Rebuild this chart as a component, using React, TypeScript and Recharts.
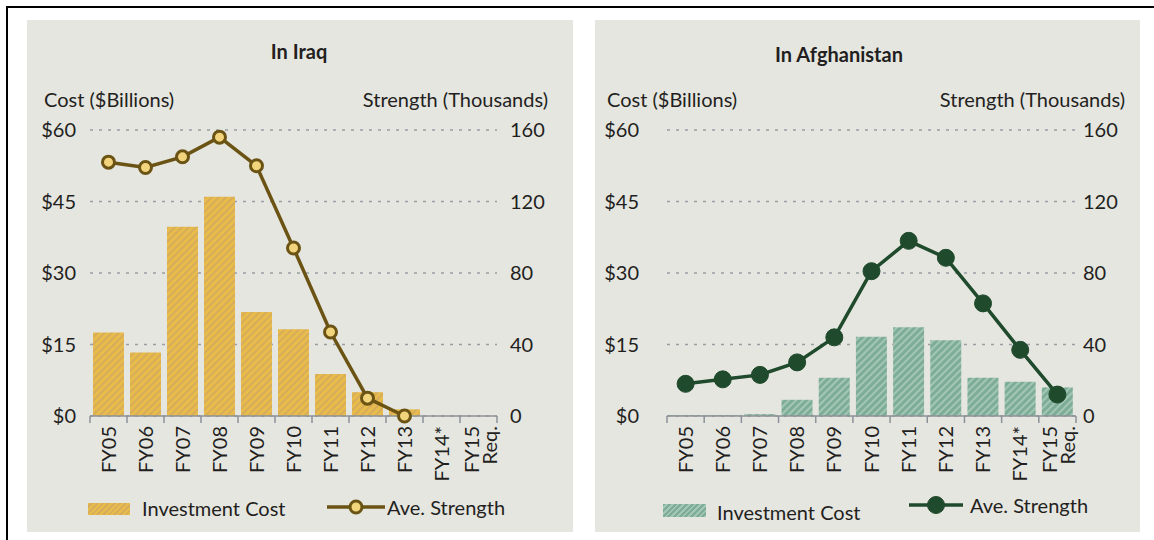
import { Bar, CartesianGrid, ComposedChart, Line, XAxis, YAxis } from 'recharts'

const categories = ['FY05', 'FY06', 'FY07', 'FY08', 'FY09', 'FY10', 'FY11', 'FY12', 'FY13', 'FY14*', 'FY15 Req.']

const iraqCost = [17.5, 13.3, 39.7, 46.0, 21.8, 18.2, 8.8, 5.0, 1.4, 0, 0]
const iraqStrength = [142, 139, 145, 156, 140, 94, 47, 10, 0, null, null]

const afghanCost = [0.2, 0.2, 0.4, 3.4, 8.0, 16.6, 18.6, 15.9, 8.0, 7.2, 6.0]
const afghanStrength = [18, 20.5, 23, 30, 44, 81, 98, 88.5, 63, 37, 12]

const costTicks = [0, 15, 30, 45, 60]
const strengthTicks = [0, 40, 80, 120, 160]

const FONT = 'Lato, "Open Sans", sans-serif'
const INK = '#231f20'
const AXIS = '#8c9298'
const PANEL_BG = '#e6e6e1'

function buildRows(cost: number[], strength: (number | null)[]) {
  return categories.map((name, i) => ({ name, cost: cost[i], strength: strength[i] }))
}

function FyTick(props: any) {
  const { x, y, payload, index, visibleTicksCount, half: fallbackHalf } = props
  const half = payload.offset || fallbackHalf
  const lines = String(payload.value).split(' ')
  return (
    <g>
      <line x1={x - half} x2={x - half} y1={y} y2={y + 7} stroke={AXIS} strokeWidth={1.5} />
      {index === visibleTicksCount - 1 && <line x1={x + half} x2={x + half} y1={y} y2={y + 7} stroke={AXIS} strokeWidth={1.5} />}
      <text transform={`translate(${x},${y + 10}) rotate(-90)`} textAnchor="end" fontSize={20} fill={INK} fontFamily={FONT}>
        {lines.length === 1 ? (
          <tspan x={0} y={7}>{lines[0]}</tspan>
        ) : (
          <>
            <tspan x={0} y={0}>{lines[0]}</tspan>
            <tspan x={0} y={18}>{lines[1]}</tspan>
          </>
        )}
      </text>
    </g>
  )
}

interface PanelProps {
  left: number
  width: number
  title: string
  titleX: number
  titleY: number
  costLabelX: number
  strengthLabelRight: number
  cost: number[]
  strength: (number | null)[]
  barColor: string
  stripeColor: string
  lineColor: string
  dotFill: string
  dotR: number
  dotStroke: number
  patternId: string
  leftAxisW: number
  rightAxisW: number
  leftTickGap: number
  rightTickGap: number
  legend: { swatchX: number; swatchY: number; swatchW: number; swatchH: number; textX: number; textY: number; lineX: number; lineW: number; lineY: number; text2X: number }
}

function Panel(p: PanelProps) {
  const data = buildRows(p.cost, p.strength)
  const plotW = p.width - p.leftAxisW - p.rightAxisW
  const label = { position: 'absolute' as const, fontFamily: FONT, fontSize: 20, color: INK, lineHeight: '20px', whiteSpace: 'nowrap' as const }
  return (
    <div style={{ position: 'absolute', left: p.left, top: 20, width: p.width, height: 512, background: PANEL_BG }}>
      <div style={{ ...label, left: p.titleX, top: p.titleY - 10, fontWeight: 700, transform: 'translateX(-50%)' }}>{p.title}</div>
      <div style={{ ...label, left: p.costLabelX, top: 69 }}>Cost ($Billions)</div>
      <div style={{ ...label, right: p.strengthLabelRight, top: 69 }}>Strength (Thousands)</div>
      <div style={{ position: 'absolute', left: 0, top: 0 }}>
        <ComposedChart width={p.width} height={512} data={data} margin={{ top: 110, right: 0, bottom: 0, left: 0 }} barCategoryGap={3}>
          <defs>
            <pattern id={p.patternId} patternUnits="userSpaceOnUse" width={5} height={5} patternTransform="rotate(45)">
              <rect width={5} height={5} fill={p.barColor} />
              <line x1={1} y1={0} x2={1} y2={5} stroke={p.stripeColor} strokeWidth={2} />
            </pattern>
          </defs>
          <CartesianGrid yAxisId="cost" vertical={false} stroke="#9a9ea2" strokeDasharray="3 6" strokeWidth={1.3} />
          <XAxis
            dataKey="name"
            interval={0}
            tickLine={false}
            tickSize={0}
            tickMargin={0}
            axisLine={{ stroke: AXIS, strokeWidth: 1.5 }}
            height={116}
            tick={<FyTick half={plotW / categories.length / 2} />}
          />
          <YAxis
            yAxisId="cost"
            width={p.leftAxisW}
            domain={[0, 60]}
            ticks={costTicks}
            tickFormatter={(v) => `$${v}`}
            axisLine={false}
            tickLine={false}
            tickSize={0}
            tickMargin={p.leftTickGap}
            tick={{ fill: INK, fontSize: 20, fontFamily: FONT }}
          />
          <YAxis
            yAxisId="strength"
            orientation="right"
            width={p.rightAxisW}
            domain={[0, 160]}
            ticks={strengthTicks}
            axisLine={false}
            tickLine={false}
            tickSize={0}
            tickMargin={p.rightTickGap}
            tick={{ fill: INK, fontSize: 20, fontFamily: FONT }}
          />
          <Bar yAxisId="cost" dataKey="cost" fill={`url(#${p.patternId})`} isAnimationActive={false} />
          <Line
            yAxisId="strength"
            dataKey="strength"
            type="linear"
            stroke={p.lineColor}
            strokeWidth={3.5}
            dot={{ r: p.dotR, fill: p.dotFill, stroke: p.lineColor, strokeWidth: p.dotStroke }}
            activeDot={false}
            isAnimationActive={false}
          />
        </ComposedChart>
      </div>
      <div
        style={{
          position: 'absolute',
          left: p.legend.swatchX,
          top: p.legend.swatchY,
          width: p.legend.swatchW,
          height: p.legend.swatchH,
          background: `repeating-linear-gradient(135deg, ${p.barColor} 0 2px, ${p.stripeColor} 2px 4px)`,
        }}
      />
      <div style={{ ...label, left: p.legend.textX, top: p.legend.textY - 10 }}>Investment Cost</div>
      <svg style={{ position: 'absolute', left: p.legend.lineX, top: p.legend.lineY - 10 }} width={p.legend.lineW} height={20}>
        <line x1={0} x2={p.legend.lineW} y1={10} y2={10} stroke={p.lineColor} strokeWidth={3.5} />
        <circle cx={p.legend.lineW / 2} cy={10} r={p.dotR} fill={p.dotFill} stroke={p.lineColor} strokeWidth={p.dotStroke} />
      </svg>
      <div style={{ ...label, left: p.legend.text2X, top: p.legend.lineY - 10 }}>Ave. Strength</div>
    </div>
  )
}

export default function App() {
  return (
    <div style={{ position: 'fixed', left: 0, top: 0, width: 1154, height: 540, background: '#ffffff', overflow: 'hidden' }}>
      <div style={{ position: 'absolute', left: 6, top: 6, width: 1160, height: 560, borderTop: '2px solid #000', borderLeft: '2px solid #000' }} />
      <Panel
        left={27}
        width={546}
        title="In Iraq"
        titleX={272}
        titleY={31}
        costLabelX={17}
        strengthLabelRight={25}
        cost={iraqCost}
        strength={iraqStrength}
        barColor="#e8bb4a"
        stripeColor="#d6ad5a"
        lineColor="#6b5314"
        dotFill="#f2d47c"
        dotR={6}
        dotStroke={3}
        patternId="iraqHatch"
        leftAxisW={63}
        rightAxisW={76}
        leftTickGap={14}
        rightTickGap={13}
        legend={{ swatchX: 61, swatchY: 483, swatchW: 42, swatchH: 12, textX: 115, textY: 488, lineX: 300, lineW: 58, lineY: 487, text2X: 360 }}
      />
      <Panel
        left={595}
        width={545}
        title="In Afghanistan"
        titleX={244}
        titleY={34}
        costLabelX={12}
        strengthLabelRight={15}
        cost={afghanCost}
        strength={afghanStrength}
        barColor="#7dad97"
        stripeColor="#a3c6b6"
        lineColor="#1f4a2c"
        dotFill="#1f4a2c"
        dotR={8.5}
        dotStroke={1}
        patternId="afghanHatch"
        leftAxisW={72}
        rightAxisW={64}
        leftTickGap={28}
        rightTickGap={7}
        legend={{ swatchX: 68, swatchY: 484, swatchW: 43, swatchH: 13, textX: 122, textY: 492, lineX: 314, lineW: 54, lineY: 485, text2X: 375 }}
      />
    </div>
  )
}
